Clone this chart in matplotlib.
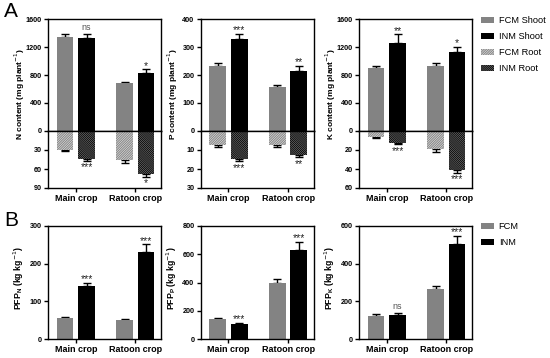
import matplotlib
matplotlib.use("Agg")
import matplotlib.pyplot as plt
import numpy as np

plt.rcParams['font.family'] = ['Liberation Sans', 'DejaVu Sans']
plt.rcParams['hatch.linewidth'] = 0.9

crops = ["Main crop", "Ratoon crop"]

# Panel A: shoot (upper) and root (lower) nutrient content
n_shoot_fcm = [1340, 680];  n_shoot_fcm_se = [50, 25]
n_shoot_inm = [1330, 830];  n_shoot_inm_se = [60, 50]
n_root_fcm = [30, 46];      n_root_fcm_se = [2, 4]
n_root_inm = [44, 68];      n_root_inm_se = [3.5, 4.5]
n_shoot_sig = ["ns", "*"];  n_root_sig = ["***", "*"]

p_shoot_fcm = [233, 156];   p_shoot_fcm_se = [10, 8]
p_shoot_inm = [329, 215];   p_shoot_inm_se = [19, 17]
p_root_fcm = [7.6, 7.4];    p_root_fcm_se = [0.9, 0.9]
p_root_inm = [14.6, 12.7];  p_root_inm_se = [1.3, 1.1]
p_shoot_sig = ["***", "**"]; p_root_sig = ["***", "**"]

k_shoot_fcm = [895, 928];   k_shoot_fcm_se = [37, 42]
k_shoot_inm = [1264, 1131]; k_shoot_inm_se = [118, 76]
k_root_fcm = [6.4, 19.4];   k_root_fcm_se = [1, 2.5]
k_root_inm = [13.1, 41.3];  k_root_inm_se = [1, 2.8]
k_shoot_sig = ["**", "*"];  k_root_sig = ["***", "***"]

# Panel B: partial factor productivity
pfp_n_fcm = [55, 49.6];  pfp_n_fcm_se = [3, 4.4]
pfp_n_inm = [140, 231];  pfp_n_inm_se = [9, 20]
pfp_p_fcm = [141, 396];  pfp_p_fcm_se = [11, 28]
pfp_p_inm = [103, 631];  pfp_p_inm_se = [9.5, 58]
pfp_k_fcm = [124.6, 265]; pfp_k_fcm_se = [5.5, 17]
pfp_k_inm = [128, 503];  pfp_k_inm_se = [9, 44]
pfp_n_sig = ["***", "***"]; pfp_p_sig = ["***", "***"]; pfp_k_sig = ["ns", "***"]

GRAY = "#838383"
BLACK = "#000000"
W = 0.28
OFF = 0.18
x = np.arange(len(crops))
XFS = 6.5
YFS = 5.2
LFS = 6.0

fig = plt.figure(figsize=(5.5, 3.58), dpi=100)

lefts = [48/550, 200.7/550, 359/550]
width = 113/550
yt, yz, yb = 1-19/358, 1-131/358, 1-188/358
bt, bb = 1-226/358, 1-339/358


def style(ax):
    for s in ax.spines.values():
        s.set_linewidth(1.0)
        s.set_color('black')
    ax.tick_params(axis='both', width=1.0, length=3, direction='out', pad=1.5)
    ax.tick_params(axis='x', labelsize=XFS)
    ax.tick_params(axis='y', labelsize=YFS)
    for lab in ax.get_xticklabels() + ax.get_yticklabels():
        lab.set_fontweight('bold')
    ax.set_xlim(-0.466, 1.43)


def sig(ax, xs, tops, labels, below=False):
    for xi, t, lab in zip(xs, tops, labels):
        col = '#555555' if lab == 'ns' else '#222222'
        fs = 6.5 if lab == 'ns' else 7.5
        if below:
            ax.annotate(lab, (xi, t), xytext=(0, -1), textcoords='offset points',
                        ha='center', va='top', fontsize=fs, color=col)
        else:
            ax.annotate(lab, (xi, t), xytext=(0, 1.5 if lab == 'ns' else -1), textcoords='offset points',
                        ha='center', va='bottom', fontsize=fs, color=col)


def errbars(ax, xs, vals, se):
    ax.errorbar(xs, vals, yerr=[np.zeros(len(vals)), se], fmt='none', ecolor='black',
                elinewidth=1, capsize=3, capthick=1, zorder=1)


A_data = [
    ("N content (mg plant$^{-1}$)", (0, 1600), [0, 400, 800, 1200, 1600], 90, [30, 60, 90],
     n_shoot_fcm, n_shoot_fcm_se, n_shoot_inm, n_shoot_inm_se,
     n_root_fcm, n_root_fcm_se, n_root_inm, n_root_inm_se, n_shoot_sig, n_root_sig),
    ("P content (mg plant$^{-1}$)", (0, 400), [0, 100, 200, 300, 400], 30, [10, 20, 30],
     p_shoot_fcm, p_shoot_fcm_se, p_shoot_inm, p_shoot_inm_se,
     p_root_fcm, p_root_fcm_se, p_root_inm, p_root_inm_se, p_shoot_sig, p_root_sig),
    ("K content (mg plant$^{-1}$)", (0, 1600), [0, 400, 800, 1200, 1600], 60, [20, 40, 60],
     k_shoot_fcm, k_shoot_fcm_se, k_shoot_inm, k_shoot_inm_se,
     k_root_fcm, k_root_fcm_se, k_root_inm, k_root_inm_se, k_shoot_sig, k_root_sig),
]

for i, d in enumerate(A_data):
    (ylab, ylim, yticks, rmax, rticks, sf, sfe, si, sie, rf, rfe, ri, rie, ssig, rsig) = d
    axu = fig.add_axes([lefts[i], yz, width, yt-yz])
    axl = fig.add_axes([lefts[i], yb, width, yz-yb])
    b1 = axu.bar(x-OFF, sf, W, color=GRAY, zorder=2, label="FCM Shoot")
    b2 = axu.bar(x+OFF, si, W, color=BLACK, zorder=2, label="INM Shoot")
    errbars(axu, x-OFF, sf, sfe)
    errbars(axu, x+OFF, si, sie)
    axu.set_ylim(*ylim)
    axu.set_yticks(yticks)
    axu.set_xticks([])
    sig(axu, [x[0]+OFF, x[1]+OFF], np.array(si)+np.array(sie), ssig)

    b3 = axl.bar(x-OFF, rf, W, color='white', edgecolor='#8c8c8c', hatch='/'*14,
                 linewidth=0, zorder=2, label="FCM Root")
    b4 = axl.bar(x+OFF, ri, W, color='white', edgecolor='#111111', hatch='\\'*16,
                 linewidth=0, zorder=2, label="INM Root")
    errbars(axl, x-OFF, rf, rfe)
    errbars(axl, x+OFF, ri, rie)
    axl.set_ylim(rmax, 0)
    axl.set_yticks(rticks)
    axl.set_xticks(x)
    axl.set_xticklabels(crops)
    sig(axl, [x[0]+OFF, x[1]+OFF], np.array(ri)+np.array(rie), rsig, below=True)
    style(axu)
    style(axl)
    fig.text(lefts[i] - 28/550, 1 - 94/358, ylab, rotation=90, fontsize=LFS,
             fontweight='bold', ha='center', va='center')
    if i == 2:
        handles = [b1, b2, b3, b4]
        fig.legend(handles, [h.get_label() for h in handles], loc='upper left',
                   bbox_to_anchor=(481/550, 1-16/358), frameon=False, fontsize=6.7,
                   handlelength=1.35, handleheight=0.6, handletextpad=0.55, labelspacing=0.75,
                   borderaxespad=0, borderpad=0)

B_data = [
    ("PFP$_\\mathregular{N}$ (kg kg$^{-1}$)", (0, 300), [0, 100, 200, 300],
     pfp_n_fcm, pfp_n_fcm_se, pfp_n_inm, pfp_n_inm_se, pfp_n_sig),
    ("PFP$_\\mathregular{P}$ (kg kg$^{-1}$)", (0, 800), [0, 200, 400, 600, 800],
     pfp_p_fcm, pfp_p_fcm_se, pfp_p_inm, pfp_p_inm_se, pfp_p_sig),
    ("PFP$_\\mathregular{K}$ (kg kg$^{-1}$)", (0, 600), [0, 200, 400, 600],
     pfp_k_fcm, pfp_k_fcm_se, pfp_k_inm, pfp_k_inm_se, pfp_k_sig),
]

for i, d in enumerate(B_data):
    ylab, ylim, yticks, f, fe, n, ne, s = d
    ax = fig.add_axes([lefts[i], bb, width, bt-bb])
    c1 = ax.bar(x-OFF, f, W, color=GRAY, zorder=2, label="FCM")
    c2 = ax.bar(x+OFF, n, W, color=BLACK, zorder=2, label="INM")
    errbars(ax, x-OFF, f, fe)
    errbars(ax, x+OFF, n, ne)
    ax.set_ylim(*ylim)
    ax.set_yticks(yticks)
    ax.set_xticks(x)
    ax.set_xticklabels(crops)
    sig(ax, [x[0]+OFF, x[1]+OFF], np.array(n)+np.array(ne), s)
    style(ax)
    fig.text(lefts[i] - 29/550, 1 - 278/358, ylab, rotation=90, fontsize=LFS + 0.3,
             fontweight='bold', ha='center', va='center')
    if i == 2:
        fig.legend([c1, c2], ["FCM", "INM"], loc='upper left',
                   bbox_to_anchor=(481/550, 1-222/358), frameon=False, fontsize=6.7,
                   handlelength=1.35, handleheight=0.6, handletextpad=0.55, labelspacing=0.75,
                   borderaxespad=0, borderpad=0)

fig.text(4/550, 1-2/358, "A", fontsize=15, va='top', ha='left')
fig.text(4/550, 1-211/358, "B", fontsize=15, va='top', ha='left')

fig.savefig("out.png", dpi=100)
